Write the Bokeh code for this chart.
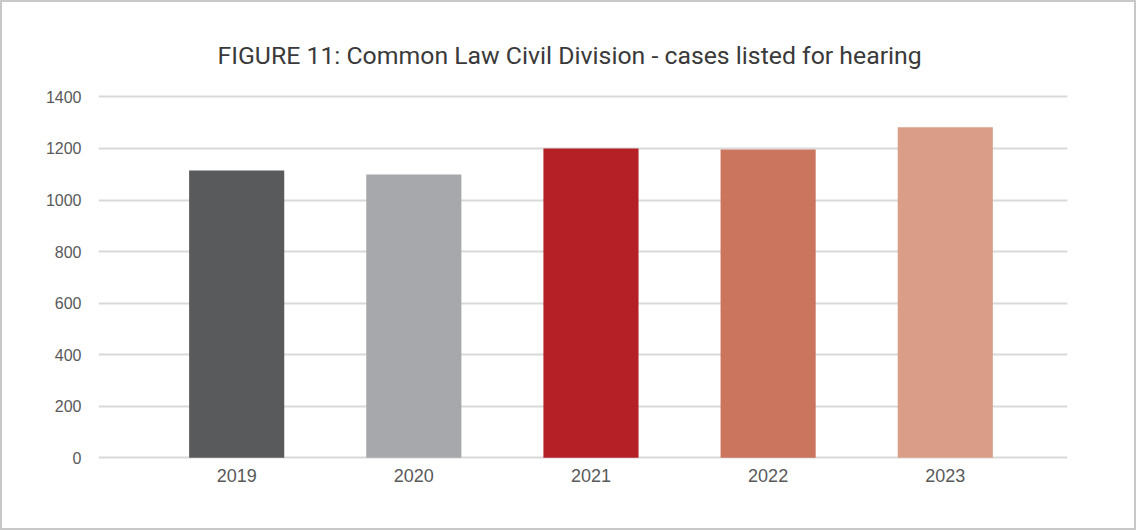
from bokeh.plotting import figure
from bokeh.models import Range1d, FixedTicker
from bokeh.embed import file_html
from bokeh.resources import INLINE

years = ["2019", "2020", "2021", "2022", "2023"]
cases = [1115, 1099, 1200, 1196, 1282]
colors = ["#595a5c", "#a7a8ab", "#b52027", "#cb755e", "#da9e88"]
y_ticks = [0, 200, 400, 600, 800, 1000, 1200, 1400]

xs = list(range(len(years)))

p = figure(width=1136, height=530,
           x_range=Range1d(-0.78, 4.69), y_range=Range1d(-10.5, 1425),
           output_backend="svg", toolbar_location=None,
           min_border_left=96, min_border_right=71,
           min_border_top=88, min_border_bottom=72)

p.title.text = "FIGURE 11: Common Law Civil Division - cases listed for hearing"
p.title.align = "left"
p.title.text_font = "Roboto"
p.title.text_font_style = "normal"
p.title.text_font_size = "24.8px"
p.title.text_color = "#3a3a3a"
p.title.offset = 119
p.title.standoff = 42

p.outline_line_color = None
p.styles = {"border": "2px solid #c8c8c8"}

p.vbar(x=xs, top=cases, width=0.537, bottom=0, fill_color=colors, line_color=None)

p.xgrid.visible = False
p.ygrid.ticker = FixedTicker(ticks=y_ticks)
p.ygrid.grid_line_color = "#d9d9d9"
p.ygrid.grid_line_width = 2

p.yaxis.ticker = FixedTicker(ticks=y_ticks)
p.yaxis.axis_line_color = None
p.yaxis.major_tick_line_color = None
p.yaxis.minor_tick_line_color = None
p.yaxis.major_label_text_font = "Liberation Sans"
p.yaxis.major_label_text_font_size = "16px"
p.yaxis.major_label_text_color = "#595959"
p.yaxis.major_label_standoff = 11

p.xaxis.ticker = FixedTicker(ticks=xs)
p.xaxis.major_label_overrides = {i: y for i, y in zip(xs, years)}
p.xaxis.axis_line_color = None
p.xaxis.major_tick_line_color = None
p.xaxis.minor_tick_line_color = None
p.xaxis.major_label_text_font = "Liberation Sans"
p.xaxis.major_label_text_font_size = "18px"
p.xaxis.major_label_text_color = "#595959"
p.xaxis.major_label_standoff = 2

open("out.html", "w").write(file_html(p, INLINE))
